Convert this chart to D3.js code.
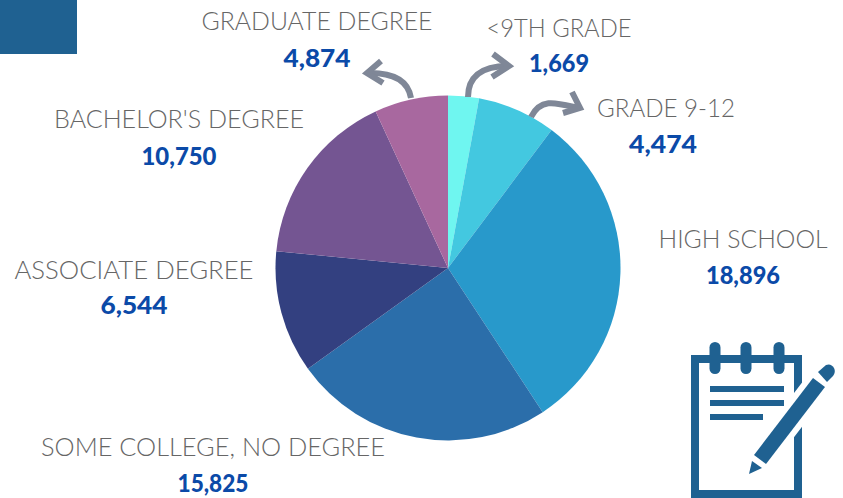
<!DOCTYPE html>
<html><head><meta charset="utf-8">
<script src="https://cdnjs.cloudflare.com/ajax/libs/d3/7.8.5/d3.min.js"></script>
<style>html,body{margin:0;padding:0;background:#fff}svg{display:block}</style>
</head><body><svg id="c" width="843" height="498"></svg>
<script>
const categories=["<9TH GRADE","GRADE 9-12","HIGH SCHOOL","SOME COLLEGE, NO DEGREE","ASSOCIATE DEGREE","BACHELOR'S DEGREE","GRADUATE DEGREE"];
const labelValues=[1669,4474,18896,15825,6544,10750,4874];
// slice sizes as drawn in the picture, in degrees (the picture's slices differ slightly from its printed numbers)
const sliceDegrees=[10.4,26.5,109.8,87.6,41.3,59.6,24.8];
const colors=["#6ff6f0","#43c8e0","#2899cb","#2b6eaa","#334080","#745592","#a8689f"];
// label layout: [centre x, name baseline, value baseline, name width]
const labelLayout=[[559,37,72,145],[666,117,153,138],[743,248,284,169],[213,456,492,344],[134,279,314,239],[179,128,165,250],[317,30,67,231]];
const valueCentre=[559,663,743,213,134,179,317];
const valueWidth=[60,68,74,71,67,75,67];
const svg=d3.select("#c");
const iconBlue="#1f6191", arrowGrey="#7f8797";
svg.append("rect").attr("width",77).attr("height",54).attr("fill",iconBlue);
const pie=d3.pie().sort(null)(sliceDegrees);
const arc=d3.arc().innerRadius(0).outerRadius(172.5);
svg.append("g").attr("transform","translate(448,268)").selectAll("path").data(pie).join("path").attr("d",arc).attr("fill",(d,i)=>colors[i]);
const fmt=d3.format(",");
const g=svg.append("g");
categories.forEach((c,i)=>{
 const l=labelLayout[i];
 g.append("text").attr("x",l[0]).attr("y",l[1]).attr("text-anchor","middle").attr("font-family","Lato").attr("font-weight",300).attr("font-size",25).attr("fill","#666").attr("textLength",l[3]).attr("lengthAdjust","spacingAndGlyphs").text(c);
 g.append("text").attr("x",valueCentre[i]).attr("y",l[2]).attr("text-anchor","middle").attr("font-family","Lato").attr("font-weight",900).attr("font-size",25).attr("fill","#0b4aa8").attr("textLength",valueWidth[i]).attr("lengthAdjust","spacingAndGlyphs").text(fmt(labelValues[i]));
});
const arrows=[
 ["M411,98C408,80 393,73 370,73","M381,61L367,73L383,83"],
 ["M468,97C468,78 480,66 508,66","M493,54L509,66L492,77"],
 ["M531,117C541,97 557,103 578,108","M572,92L580,108L563,113"]];
arrows.forEach(a=>a.forEach(p=>svg.append("path").attr("d",p).attr("fill","none").attr("stroke",arrowGrey).attr("stroke-width",6)));
// notepad icon
const ic=svg.append("g");
ic.append("rect").attr("x",695).attr("y",359).attr("width",103).attr("height",135).attr("fill","none").attr("stroke",iconBlue).attr("stroke-width",8);
[715,746,779].forEach(x=>ic.append("rect").attr("x",x-5.5).attr("y",342).attr("width",11).attr("height",32).attr("rx",5.5).attr("fill",iconBlue));
[[710,784,386],[710,784,400],[710,763,414]].forEach(r=>ic.append("rect").attr("x",r[0]).attr("y",r[2]).attr("width",r[1]-r[0]).attr("height",6).attr("fill",iconBlue));
ic.append("path").attr("d","M813,378L825,387L766,464L754,455Z").attr("fill","#fff").attr("stroke","#fff").attr("stroke-width",12);
ic.append("path").attr("d","M813,378L825,387L766,464L754,455Z").attr("fill",iconBlue);
ic.append("path").attr("d","M752,461L762,468L749,474Z").attr("fill",iconBlue);
ic.append("path").attr("d","M818,372L826,365Q831,363 834,368Q836,372 833,376L827,382Z").attr("fill",iconBlue);
</script></body></html>
